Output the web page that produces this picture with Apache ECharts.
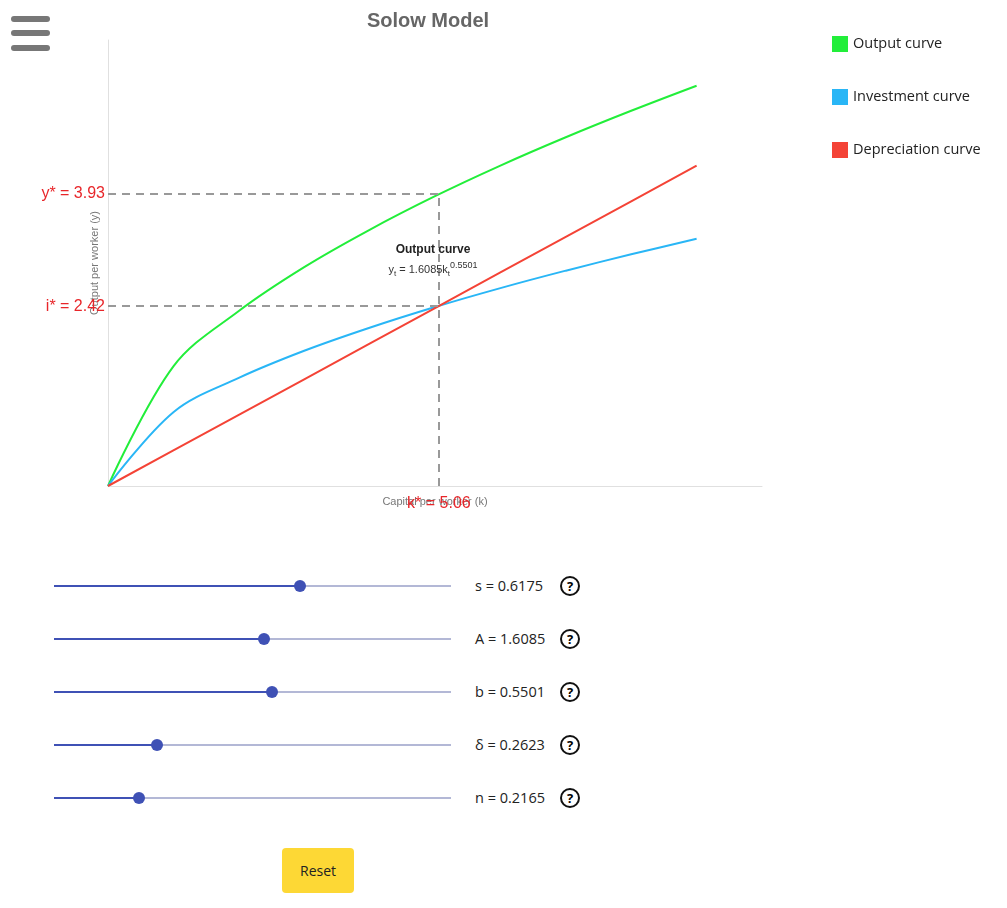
<!DOCTYPE html>
<html>
<head>
<meta charset="utf-8">
<script src="https://cdn.jsdelivr.net/npm/echarts@6/dist/echarts.min.js"></script>
<style>
  body { margin:0; font-family: "Open Sans", sans-serif; background:#fff; }
  #main { position:absolute; left:0; top:0; width:1007px; height:540px; }
  .burger { position:absolute; left:11px; width:39px; height:6px; border-radius:3px; background:#777; }
  .row { position:absolute; left:0; height:20px; }
  .track { position:absolute; left:54px; width:397px; height:2px; top:9px; background:#b3b8d6; }
  .fill { position:absolute; left:54px; height:2px; top:9px; background:#3f51b5; }
  .knob { position:absolute; width:12px; height:12px; top:4px; border-radius:50%; background:#3f51b5; margin-left:-6px; }
  .lab { position:absolute; left:475px; top:0; font-size:14.5px; color:#222; white-space:nowrap; }
  .q { position:absolute; left:560px; top:0; width:16px; height:16px; border:2px solid #111; border-radius:50%; font-size:13px; font-weight:bold; text-align:center; line-height:16px; }
  #reset { position:absolute; left:282px; top:848px; width:72px; height:45px; background:#fdd835; border-radius:4px; font-size:14px; text-align:center; line-height:45px; color:#222; }
</style>
</head>
<body>
<div id="main"></div>
<div class="burger" style="top:16px"></div>
<div class="burger" style="top:30px"></div>
<div class="burger" style="top:45px"></div>
<div id="sliders"></div>
<div id="reset">Reset</div>
<script>
var kValues = [0, 1, 2, 3, 4, 5, 6, 7, 8, 9];
var outputValues = [0, 1.609, 2.355, 2.945, 3.447, 3.899, 4.311, 4.692, 5.048, 5.385];
var investmentValues = [0, 0.993, 1.454, 1.819, 2.129, 2.408, 2.662, 2.897, 3.117, 3.325];
var depreciationValues = [0, 0.479, 0.958, 1.436, 1.915, 2.394, 2.873, 3.352, 3.830, 4.309];
var kStar = 5.06, yStar = 3.93, iStar = 2.42;
var params = ['s = 0.6175', 'A = 1.6085', 'b = 0.5501', 'δ = 0.2623', 'n = 0.2165'];
var paramPos = [0.62, 0.53, 0.55, 0.26, 0.215];

function pairs(v) { return kValues.map(function (k, i) { return [k, v[i]]; }); }

var dashStyle = { color: '#999', type: [8, 6], width: 2 };
var redLab = { color: '#e8262a', fontSize: 16, fontFamily: 'Liberation Sans' };

var myChart = echarts.init(document.getElementById('main'));
myChart.setOption({
  animation: false,
  title: { text: 'Solow Model', left: 423, textAlign: 'center', top: 6,
    textStyle: { color: '#666', fontSize: 20, fontWeight: 'bold', fontFamily: 'Liberation Sans' } },
  legend: { orient: 'vertical', left: 827, top: 31, itemWidth: 16, itemHeight: 16, itemGap: 37, icon: 'rect',
    textStyle: { fontSize: 14.5, color: '#222', fontFamily: 'Open Sans' } },
  grid: { left: 108, right: 245, top: 40, bottom: 54 },
  xAxis: { type: 'value', min: 0, max: 10, name: 'Capital per worker (k)', nameLocation: 'middle', nameGap: 10,
    nameTextStyle: { color: '#777', fontSize: 11, fontFamily: 'Liberation Sans' },
    axisLine: { lineStyle: { color: '#e0e0e0' } }, axisTick: { show: false }, axisLabel: { show: false }, splitLine: { show: false } },
  yAxis: { type: 'value', min: 0, max: 6, name: 'Output per worker (y)', nameLocation: 'middle', nameGap: 8,
    nameTextStyle: { color: '#777', fontSize: 11, fontFamily: 'Liberation Sans' },
    axisLine: { show: true, lineStyle: { color: '#e0e0e0' } }, axisTick: { show: false }, axisLabel: { show: false }, splitLine: { show: false } },
  series: [
    { name: 'Output curve', type: 'line', smooth: 0.35, showSymbol: false, data: pairs(outputValues),
      color: '#22ee3a', lineStyle: { width: 2 },
      markLine: { silent: true, symbol: 'none', lineStyle: dashStyle,
        data: [
          [{ coord: [0, yStar], label: { show: true, position: 'start', formatter: 'y* = 3.93', distance: 3 } }, { coord: [kStar, yStar] }],
          [{ coord: [0, iStar], label: { show: true, position: 'start', formatter: 'i* = 2.42', distance: 3 } }, { coord: [kStar, iStar] }],
          [{ coord: [kStar, 0], label: { show: true, position: 'start', formatter: 'k* = 5.06', distance: 10 } }, { coord: [kStar, yStar] }]
        ], label: redLab },
      markPoint: { symbolSize: 0, silent: true, data: [{ coord: [4.97, 3.06], label: { show: true,
        formatter: '{t|Output curve}\n{f|y}{s|t}{f| = 1.6085k}{s|t}{p|0.5501}',
        rich: { t: { fontWeight: 'bold', fontSize: 12, color: '#222', lineHeight: 22, align: 'center' },
                f: { fontSize: 11, color: '#333' }, s: { fontSize: 8, color: '#333', verticalAlign: 'bottom', padding: [6, 0, 0, 0] },
                p: { fontSize: 9, color: '#333', padding: [0, 0, 8, 0] } } } }] } },
    { name: 'Investment curve', type: 'line', smooth: 0.35, showSymbol: false, data: pairs(investmentValues),
      color: '#29b6f6', lineStyle: { width: 2 } },
    { name: 'Depreciation curve', type: 'line', showSymbol: false, data: pairs(depreciationValues),
      color: '#f44336', lineStyle: { width: 2 } }
  ]
});

var html = '';
params.forEach(function (p, i) {
  var top = 576 + i * 53;
  var x = 54 + 397 * paramPos[i];
  html += '<div class="row" style="top:' + top + 'px;width:600px">'
    + '<div class="track"></div><div class="fill" style="width:' + (x - 54) + 'px"></div>'
    + '<div class="knob" style="left:' + x + 'px"></div>'
    + '<div class="lab">' + p + '</div><div class="q">?</div></div>';
});
document.getElementById('sliders').innerHTML = html;
</script>
</body>
</html>
